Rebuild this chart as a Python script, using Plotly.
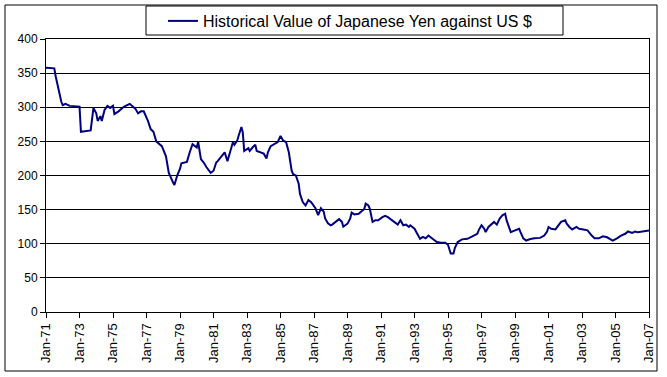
import plotly.graph_objects as go

dates = [
    "1971-01", "1971-07", "1971-08", "1971-10", "1971-12", "1972-01", "1972-03", "1972-06", "1972-12",
    "1973-01", "1973-02", "1973-05", "1973-09", "1973-11", "1974-01", "1974-02", "1974-04", "1974-05",
    "1974-07", "1974-09", "1974-11", "1975-01", "1975-02", "1975-05", "1975-09", "1976-01", "1976-03",
    "1976-05", "1976-07", "1976-09", "1976-11", "1977-02", "1977-04", "1977-06", "1977-08", "1977-10",
    "1977-12", "1978-03", "1978-05", "1978-08", "1978-09", "1978-11", "1979-01", "1979-02", "1979-06",
    "1979-08", "1979-10", "1980-01", "1980-02", "1980-04", "1980-06", "1980-08", "1980-09", "1980-11",
    "1981-01", "1981-03", "1981-04", "1981-07", "1981-09", "1981-11", "1982-01", "1982-02", "1982-03",
    "1982-04", "1982-06", "1982-07", "1982-09", "1982-10", "1982-11", "1983-02", "1983-03", "1983-05",
    "1983-07", "1983-08", "1983-11", "1984-01", "1984-03", "1984-04", "1984-06", "1984-09", "1984-11",
    "1985-01", "1985-03", "1985-05", "1985-07", "1985-09", "1985-10", "1985-12", "1986-02", "1986-03",
    "1986-05", "1986-07", "1986-09", "1986-11", "1987-01", "1987-02", "1987-04", "1987-06", "1987-08",
    "1987-09", "1987-11", "1988-01", "1988-02", "1988-05", "1988-07", "1988-09", "1988-10", "1989-01",
    "1989-03", "1989-04", "1989-06", "1989-09", "1989-11", "1990-01", "1990-02", "1990-04", "1990-05",
    "1990-07", "1990-09", "1990-11", "1991-02", "1991-04", "1991-06", "1991-08", "1991-10", "1992-01",
    "1992-03", "1992-05", "1992-07", "1992-09", "1992-10", "1993-01", "1993-03", "1993-05", "1993-07",
    "1993-09", "1993-11", "1994-02", "1994-05", "1994-08", "1994-11", "1995-01", "1995-03", "1995-05",
    "1995-06", "1995-08", "1995-11", "1996-03", "1996-06", "1996-08", "1996-10", "1996-11", "1997-01",
    "1997-03", "1997-04", "1997-06", "1997-09", "1997-10", "1997-12", "1998-02", "1998-04", "1998-06",
    "1998-07", "1998-09", "1998-10", "1999-01", "1999-04", "1999-05", "1999-07", "1999-09", "1999-12",
    "2000-03", "2000-07", "2000-10", "2000-12", "2001-01", "2001-03", "2001-06", "2001-08", "2001-10",
    "2002-01", "2002-02", "2002-04", "2002-06", "2002-09", "2002-11", "2003-02", "2003-05", "2003-08",
    "2003-10", "2004-01", "2004-04", "2004-07", "2004-09", "2004-11", "2005-02", "2005-05", "2005-08",
    "2005-10", "2006-01", "2006-03", "2006-05", "2006-08", "2007-01",
]

yen = [
    358, 357, 345, 325, 308, 303, 305, 302, 302,
    301, 264, 265, 266, 299, 291, 280, 287, 280,
    296, 302, 299, 302, 290, 294, 301, 305, 301,
    298, 291, 294, 294, 280, 268, 264, 250, 246,
    243, 228, 204, 190, 186, 200, 210, 218, 220,
    234, 246, 241, 249.5, 224, 219, 212, 209, 204,
    207, 219, 221, 229, 234, 221, 234, 241, 249,
    245, 251, 258, 271, 263, 236, 240, 236, 241,
    245, 236, 234, 232, 225, 234, 243, 246, 249,
    258, 251, 249, 234, 207, 202, 200, 188, 173,
    161, 156, 164, 161, 154, 152, 142, 152, 147,
    137, 130, 127, 128, 132, 136, 132, 125, 129.5,
    137, 145.6, 143, 144, 147, 151, 158.8, 156, 151.5,
    132, 134.5, 134.5, 139, 141, 139, 136, 132, 128,
    134.5, 127, 128, 124.6, 127, 122, 114.6, 107.3, 110,
    108, 112, 107, 102.5, 101.5, 101.5, 98.5, 85.7, 85.7,
    94, 102.5, 106.4, 107.3, 110, 112, 114.6, 120, 127,
    122, 117, 124.6, 129.5, 132, 128, 137, 141.7, 144,
    134.5, 122, 117, 119.6, 122, 117, 108, 104.7, 107,
    108, 108.6, 112, 118, 124.6, 122, 121, 127, 132,
    134.5, 129.5, 124.6, 121, 124.6, 122, 121, 119.6, 112,
    108, 108, 111, 109.5, 107, 104.7, 108, 112, 114.6,
    118, 116, 118, 117, 118, 119.6,
]

series_name = "Historical Value of Japanese Yen against US $"
y_ticks = [0, 50, 100, 150, 200, 250, 300, 350, 400]

fig = go.Figure()
fig.add_trace(go.Scatter(
    x=[d + "-01" for d in dates], y=yen, mode="lines", name=series_name,
    line=dict(color="#000080", width=2),
))

W, H = 667, 377
L, R, T, B = 46, 18, 39, 65
pw, ph = W - L - R, H - T - B

def px_x(p):
    return (p - L) / pw

def px_y(p):
    return (H - B - p) / ph

fig.update_layout(
    width=W, height=H, autosize=False,
    margin=dict(l=L, r=R, t=T, b=B, autoexpand=False),
    paper_bgcolor="white", plot_bgcolor="white",
    font=dict(family="Liberation Sans, Arial, sans-serif", color="black", size=12),
    showlegend=True,
    legend=dict(
        xref="container", yref="container",
        x=163 / W, y=1 - 21 / H, xanchor="left", yanchor="middle",
        bgcolor="rgba(0,0,0,0)", borderwidth=0,
        font=dict(size=16, family="Liberation Sans, Arial, sans-serif", color="black"),
    ),
    shapes=[
        dict(type="rect", xref="paper", yref="paper",
             x0=px_x(5), x1=px_x(657), y0=px_y(371), y1=px_y(5),
             line=dict(color="black", width=1), layer="below"),
        dict(type="rect", xref="paper", yref="paper",
             x0=px_x(146), x1=px_x(563), y0=px_y(35), y1=px_y(6),
             line=dict(color="black", width=1), layer="below"),
    ],
)

fig.update_xaxes(
    type="date",
    range=["1971-01-01", "2007-01-01"],
    tick0="1971-01-01", dtick="M24", tickformat="%b-%y",
    tickangle=-90, ticks="outside", ticklen=5, tickcolor="black",
    tickfont=dict(size=13), automargin=False,
    showgrid=False, showline=True, linecolor="black", linewidth=1, mirror=True,
    zeroline=False,
)
fig.update_yaxes(
    range=[0, 400], tickvals=y_ticks,
    ticks="outside", ticklen=5, tickcolor="black",
    tickfont=dict(size=12), automargin=False,
    showgrid=True, gridcolor="black", gridwidth=1,
    showline=True, linecolor="black", linewidth=1, mirror=True,
    zeroline=False,
)

fig.write_html(
    "out.html",
    config={"displayModeBar": False},
    post_script="document.body.style.margin='0px';document.body.style.padding='0px';",
)
